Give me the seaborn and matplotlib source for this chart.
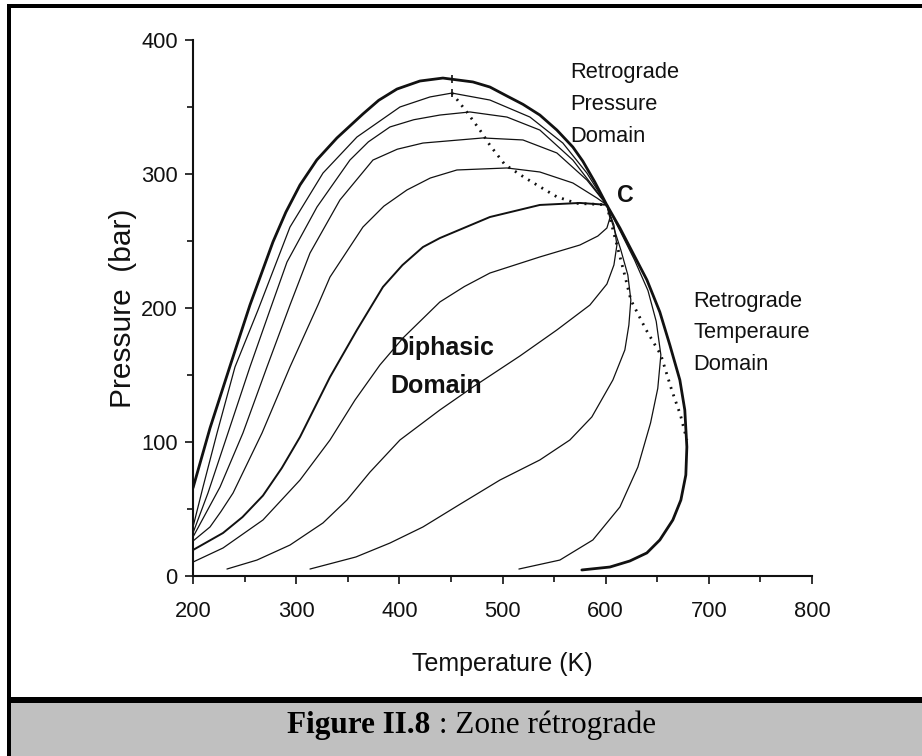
import matplotlib
matplotlib.use("Agg")
import matplotlib.pyplot as plt
import seaborn as sns
from matplotlib.ticker import MultipleLocator
from matplotlib.patches import Rectangle
from matplotlib import font_manager as fm

# ---------------- data (T in K, P in bar) ----------------
env_T = [200.0, 216.5, 235.9, 255.2, 277.5, 290.0, 303.7, 320.0, 339.5, 364.7, 380.0, 397.7, 420.0,
         442.2, 471.3, 487.8, 504.3, 519.8, 536.2, 552.7, 568.2, 577.9, 589.5, 601.0, 613.8, 626.4,
         640.0, 652.5, 662.2, 671.9, 676.7, 678.7, 677.7, 672.9, 665.1, 652.5, 639.9, 623.4, 604.1,
         576.9]
env_P = [65.7, 110.4, 156.7, 202.2, 249.3, 271.5, 291.8, 310.5, 326.9, 344.8, 355.0, 363.4, 369.4,
         371.6, 368.7, 364.9, 358.2, 352.0, 344.0, 332.8, 320.1, 309.5, 294.0, 277.0, 259.7, 241.0,
         220.9, 197.0, 172.4, 146.3, 123.9, 96.3, 75.4, 56.7, 41.8, 26.9, 17.2, 11.2, 6.7, 4.5]

q1_T = [200.0, 209.7, 223.3, 240.7, 263.0, 294.0, 326.0, 358.9, 400.6, 429.7, 451.0, 487.8, 526.6, 558.5, 581.8, 601.0]
q1_P = [36.6, 66.4, 106.7, 156.0, 198.5, 260.4, 300.7, 327.6, 350.0, 357.5, 360.4, 355.2, 342.5, 323.1, 300.7, 277.0]

q2_T = [200.0, 214.5, 233.9, 255.2, 274.6, 291.1, 320.2, 352.1, 370.0, 390.9, 414.0, 439.3, 468.4, 504.3, 536.2, 568.2, 587.6, 601.0]
q2_P = [32.1, 61.9, 106.7, 156.0, 198.5, 234.3, 275.4, 310.4, 324.0, 335.1, 340.5, 344.0, 346.3, 342.5, 332.8, 310.4, 291.0, 277.0]

q3_T = [200.0, 226.2, 248.4, 271.7, 294.0, 313.4, 342.4, 374.4, 398.0, 422.9, 481.0, 519.8, 552.7, 581.8, 601.0]
q3_P = [29.1, 66.4, 106.7, 156.0, 202.2, 241.0, 280.6, 310.4, 318.5, 323.1, 326.9, 325.4, 315.7, 295.5, 277.0]

q4_T = [200.0, 216.5, 227.0, 238.8, 266.9, 294.0, 321.1, 332.8, 364.7, 385.0, 407.4, 430.0, 455.8, 504.3, 536.2, 568.2, 591.5, 601.0]
q4_P = [26.1, 36.6, 48.0, 61.9, 106.7, 156.0, 202.2, 223.1, 260.4, 276.0, 288.1, 297.0, 303.0, 304.5, 301.5, 293.3, 282.1, 277.0]

q5_T = [200.0, 229.1, 248.0, 267.8, 286.0, 303.7, 332.8, 358.9, 384.1, 403.0, 422.9, 439.3, 487.8, 536.2, 575.0, 601.0]
q5_P = [19.4, 32.1, 44.0, 60.0, 80.5, 103.7, 148.5, 183.6, 215.7, 232.0, 245.5, 252.2, 267.9, 276.9, 278.4, 277.0]

q6_T = [200.0, 229.1, 267.8, 303.7, 332.8, 357.0, 381.2, 403.5, 439.3, 463.0, 487.8, 536.2, 575.0, 592.4, 601.2, 604.1, 601.0]
q6_P = [10.4, 20.9, 41.8, 71.6, 101.5, 131.3, 157.5, 177.6, 204.5, 216.0, 226.1, 238.1, 247.0, 253.7, 259.7, 267.2, 277.0]

q7_T = [232.9, 262.0, 294.0, 326.0, 349.2, 371.5, 400.6, 439.3, 471.3, 516.9, 552.7, 584.7, 601.2, 608.0, 610.9, 608.0, 601.0]
q7_P = [5.2, 11.9, 23.1, 39.6, 56.7, 77.5, 101.5, 123.9, 141.0, 164.2, 183.6, 202.2, 217.9, 232.1, 247.0, 261.9, 277.0]

q8_T = [313.4, 357.9, 390.9, 422.9, 458.7, 497.5, 536.2, 565.3, 586.6, 607.0, 618.6, 622.5, 624.4, 621.5, 614.7, 607.0, 601.0]
q8_P = [5.2, 14.2, 24.6, 36.6, 53.5, 71.6, 86.6, 101.5, 118.7, 146.3, 168.7, 187.3, 206.0, 224.6, 243.3, 261.9, 277.0]

q9_T = [515.9, 555.6, 587.6, 613.8, 631.2, 643.5, 650.5, 653.5, 649.0, 641.0, 628.0, 614.5, 601.0]
q9_P = [5.2, 11.9, 26.9, 51.5, 81.3, 114.2, 140.0, 165.0, 190.0, 213.0, 235.8, 256.7, 277.0]

# locus of pressure maxima (dotted, upper) and of temperature maxima (dotted, lower)
pmax_T = [451.0, 465.2, 478.1, 487.8, 502.3, 520.1, 536.2, 552.4, 571.8, 601.0]
pmax_P = [360.4, 346.5, 332.8, 321.5, 307.0, 298.0, 290.5, 283.1, 278.1, 277.0]
tmax_T = [601.0, 604.1, 610.9, 617.7, 624.4, 639.0, 653.5, 664.0, 672.5, 678.7]
tmax_P = [277.0, 267.2, 247.0, 226.9, 206.0, 184.0, 165.0, 138.8, 120.1, 101.5]

peak_tick_T = [451.0, 451.0]
peak_tick_P = [370.8, 360.4]

x_ticks = [200, 300, 400, 500, 600, 700, 800]
y_ticks = [0, 100, 200, 300, 400]

# ---------------- style ----------------
sns.set_theme(style="ticks")
plt.rcParams['font.family'] = ['Liberation Sans', 'DejaVu Sans']


def have(name):
    try:
        fm.findfont(fm.FontProperties(family=name), fallback_to_default=False)
        return True
    except Exception:
        return False


NARROW = have('Liberation Sans Narrow')
nfam = ['Liberation Sans Narrow', 'Liberation Sans'] if NARROW else ['Liberation Sans']
ns = 1.0 if NARROW else 0.9
INK = '#111111'

W, H = 922, 756
fig = plt.figure(figsize=(W / 100, H / 100), dpi=100)
fig.patch.set_facecolor('white')


def px_rect(x0, y0, x1, y1, color):
    fig.add_artist(Rectangle((x0 / W, 1 - y1 / H), (x1 - x0) / W, (y1 - y0) / H,
                             transform=fig.transFigure, facecolor=color,
                             edgecolor='none', zorder=0))


px_rect(10, 703, W, H, '#c0c0c0')
px_rect(7, 697, W, 703, 'black')
px_rect(7, 4, W, 8, 'black')
px_rect(7, 4, 10.5, H, 'black')

ax = fig.add_axes([193 / W, 1 - 576 / H, 619 / W, 536 / H])
ax.set_facecolor('none')


def draw(T, P, lw, dots=False):
    sns.lineplot(x=T, y=P, ax=ax, sort=False, estimator=None, color=INK,
                 linewidth=lw, legend=False)
    ln = ax.lines[-1]
    ln.set_solid_joinstyle('round')
    if dots:
        ln.set_linestyle((0, (0.7, 2.1)))


draw(env_T, env_P, 2.0)
for T, P in [(q1_T, q1_P), (q2_T, q2_P), (q3_T, q3_P), (q4_T, q4_P),
             (q6_T, q6_P), (q7_T, q7_P), (q8_T, q8_P), (q9_T, q9_P)]:
    draw(T, P, 0.9)
draw(q5_T, q5_P, 1.4)
draw(pmax_T, pmax_P, 2.0, dots=True)
draw(tmax_T, tmax_P, 2.0, dots=True)
ax.plot(peak_tick_T, peak_tick_P, linestyle='none', marker='|', markersize=6,
        markeredgewidth=1.2, color=INK)

ax.set_xlim(200, 800)
ax.set_ylim(0, 400)
ax.set_xticks(x_ticks)
ax.set_yticks(y_ticks)
ax.xaxis.set_minor_locator(MultipleLocator(50))
ax.yaxis.set_minor_locator(MultipleLocator(50))
for s in ['top', 'right']:
    ax.spines[s].set_visible(False)
for s in ['left', 'bottom']:
    ax.spines[s].set_linewidth(1.5)
    ax.spines[s].set_color(INK)
ax.tick_params(which='major', direction='out', length=6, width=1.2, color=INK,
               labelsize=17.5 * ns, labelcolor=INK, labelfontfamily=nfam)
ax.tick_params(which='minor', direction='out', length=4, width=1.2, color=INK)
ax.tick_params(axis='x', which='major', pad=12)
ax.tick_params(axis='y', which='major', pad=5)

ax.set_xlabel('Temperature (K)', fontsize=18, color=INK, family=['Liberation Sans'])
ax.xaxis.set_label_coords(0.5, -0.1418)
ax.set_ylabel('Pressure  (bar)', fontsize=21.5, color=INK, family=['Liberation Sans'])
ax.yaxis.set_label_coords(-0.0905, 0.5)

# annotations
for txt, p in zip(['Retrograde', 'Pressure', 'Domain'], [371.4, 347.8, 324.1]):
    ax.text(565.3, p, txt, fontsize=17.5 * ns, family=nfam, color=INK, va='baseline', ha='left')
for txt, p in zip(['Retrograde', 'Temperaure', 'Domain'], [201.0, 177.4, 153.7]):
    ax.text(684.8, p, txt, fontsize=17.5 * ns, family=nfam, color=INK, va='baseline', ha='left')
ax.text(610.6, 279.3, 'C', fontsize=18.5 * ns, family=nfam, fontweight='bold', color=INK,
        va='baseline', ha='left')
for txt, p in zip(['Diphasic', 'Domain'], [164.9, 136.3]):
    ax.text(390.9, p, txt, fontsize=18, family=['Liberation Sans'], fontweight='bold',
            color=INK, va='baseline', ha='left')

# caption
cap_y = 1 - 733 / H
t1 = fig.text(0, cap_y, 'Figure II.8', fontsize=22.5, fontweight='bold',
              family=['Liberation Serif', 'DejaVu Serif'], va='baseline', ha='left', color='black')
t2 = fig.text(0, cap_y, ' : Zone rétrograde', fontsize=22.5,
              family=['Liberation Serif', 'DejaVu Serif'], va='baseline', ha='left', color='black')
fig.canvas.draw()
w1 = t1.get_window_extent().width
w2 = t2.get_window_extent().width
start = 471.5 - (w1 + w2) / 2
t1.set_x(start / W)
t2.set_x((start + w1) / W)

fig.savefig('out.png', dpi=100)
